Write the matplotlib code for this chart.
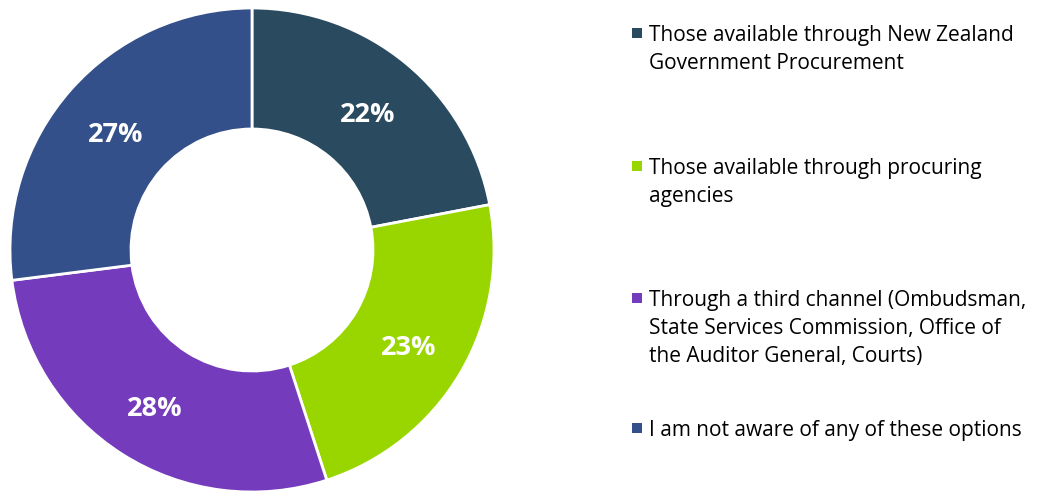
import matplotlib
matplotlib.use("Agg")
import matplotlib.pyplot as plt
from matplotlib.patches import Rectangle
import numpy as np

categories = [
    "Those available through New Zealand\nGovernment Procurement",
    "Those available through procuring\nagencies",
    "Through a third channel (Ombudsman,\nState Services Commission, Office of\nthe Auditor General, Courts)",
    "I am not aware of any of these options",
]
shares = [22, 23, 28, 27]
colors = ["#294A5F", "#99D600", "#753BBD", "#34508A"]

W, H = 1037, 494
fig = plt.figure(figsize=(W / 100, H / 100), dpi=100)

# donut axes: centre (252, 250) px, outer radius 242 px
cx, cy, r = 252, 250, 242
ax = fig.add_axes([(cx - r) / W, (H - cy - r) / H, 2 * r / W, 2 * r / H])
wedges, _ = ax.pie(
    shares, colors=colors, startangle=90, counterclock=False, radius=1.0,
    wedgeprops=dict(width=0.5, edgecolor="white", linewidth=2),
)
for w, v in zip(wedges, shares):
    ang = np.deg2rad((w.theta1 + w.theta2) / 2)
    ax.text(0.75 * np.cos(ang), 0.75 * np.sin(ang) - 0.022, f"{v}%", ha="center",
            va="center", color="white", fontsize=19.5, fontweight="bold",
            family="Open Sans")
ax.set_xlim(-1, 1)
ax.set_ylim(-1, 1)
ax.set_aspect("equal")
ax.axis("off")

# legend drawn in figure pixel coordinates (first-line baselines)
baselines = [41, 174, 306, 436]
line_gap = 28
for label, col, yb in zip(categories, colors, baselines):
    fig.patches.append(Rectangle((632 / W, (H - yb + 3) / H), 10 / W, 10 / H,
                                 transform=fig.transFigure, facecolor=col, edgecolor="none"))
    for i, line in enumerate(label.split("\n")):
        fig.text(649 / W, (H - yb - i * line_gap) / H, line, ha="left", va="baseline",
                 fontsize=15, family="Open Sans", color="#000000")

fig.savefig("out.png", dpi=100)
